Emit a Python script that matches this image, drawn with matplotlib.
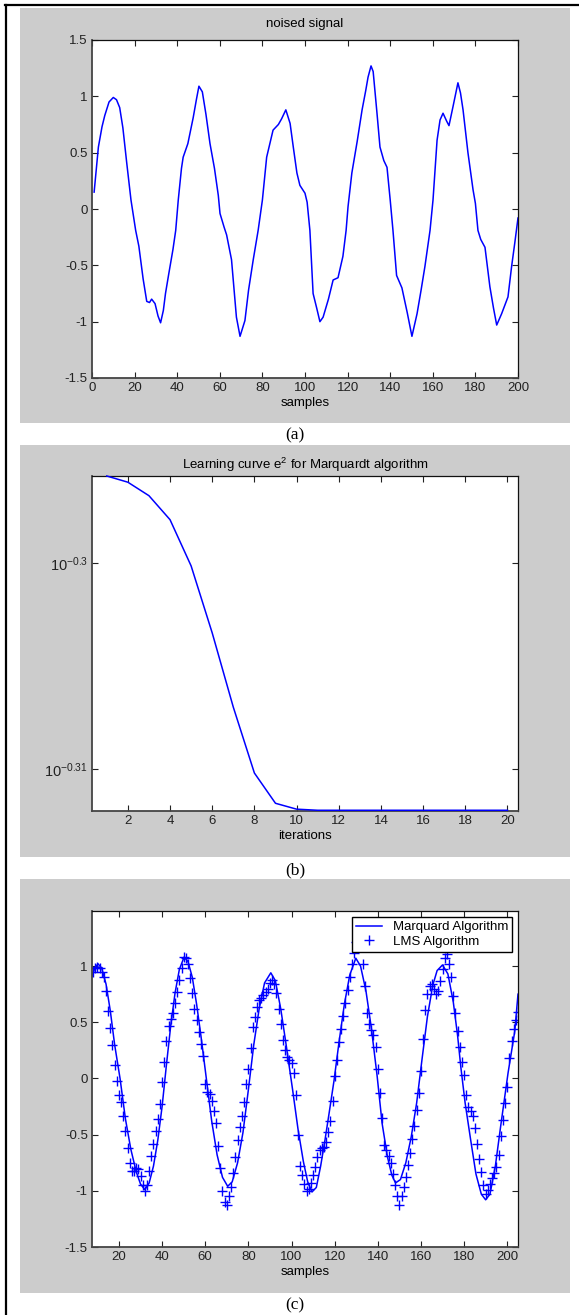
import matplotlib
matplotlib.use('Agg')
import matplotlib.pyplot as plt
from matplotlib.patches import Rectangle
from matplotlib.lines import Line2D
from matplotlib.ticker import FormatStrFormatter, NullLocator

plt.rcParams['font.family'] = ['Liberation Sans', 'DejaVu Sans']
plt.rcParams['font.size'] = 9.5
plt.rcParams['axes.unicode_minus'] = False
plt.rcParams['mathtext.fontset'] = 'custom'
plt.rcParams['mathtext.rm'] = 'Liberation Sans'
plt.rcParams['mathtext.it'] = 'Liberation Sans'

# (a) noised signal
noised_x = [1, 2, 3, 4.7, 6, 8, 10, 11.5, 13, 14.5, 16.3, 18.3, 20.5, 22, 24, 25.7, 27, 28, 29.6, 31,
            32.2, 33.5, 34.5, 36, 38, 39.3, 40.5, 42, 42.8, 45, 47.5, 49, 50.2, 51.8, 53.5, 55.4, 57.5, 59.3, 60.1, 62,
            63.2, 65.5, 67.8, 69.5, 71.8, 73.5, 75.7, 78, 80, 82, 85, 87.5, 89, 91, 93, 94.5, 96.2, 97.6, 100, 101,
            102.3, 103.8, 105.5, 107, 108.5, 111, 113.2, 115.5, 117.8, 119.3, 120.2, 122, 124.5, 126.8, 128.5, 129.6, 131, 132, 133.8, 135.2,
            137, 138.5, 140, 141.3, 143, 145.5, 148, 150.2, 152.6, 154.5, 156.3, 158.7, 160.1, 162, 163.4, 164.8, 166.5, 167.6, 169.5, 171.8,
            173, 174.2, 176.5, 178.9, 180, 181.2, 182.5, 184.5, 186.8, 188.5, 190, 192.3, 195.3, 197, 198.5, 200]
noised_y = [0.15, 0.35, 0.55, 0.73, 0.83, 0.95, 0.99, 0.97, 0.90, 0.72, 0.41, 0.08, -0.19, -0.33, -0.62, -0.82, -0.83, -0.80, -0.84, -0.95,
            -1.01, -0.90, -0.75, -0.58, -0.36, -0.19, 0.08, 0.36, 0.46, 0.58, 0.81, 0.97, 1.09, 1.04, 0.84, 0.58, 0.36, 0.12, -0.04, -0.16,
            -0.23, -0.45, -0.96, -1.13, -0.99, -0.72, -0.45, -0.19, 0.08, 0.46, 0.70, 0.75, 0.80, 0.88, 0.76, 0.55, 0.32, 0.21, 0.14, 0.06,
            -0.19, -0.75, -0.88, -1.00, -0.96, -0.80, -0.63, -0.61, -0.42, -0.19, 0.02, 0.32, 0.60, 0.88, 1.05, 1.17, 1.27, 1.22, 0.85, 0.55,
            0.43, 0.37, 0.08, -0.19, -0.59, -0.70, -0.92, -1.13, -0.93, -0.72, -0.51, -0.19, 0.08, 0.61, 0.79, 0.85, 0.78, 0.74, 0.91, 1.12,
            1.03, 0.88, 0.50, 0.17, 0.05, -0.19, -0.27, -0.34, -0.69, -0.88, -1.03, -0.93, -0.78, -0.51, -0.30, -0.08]

# (b) learning curve e^2
iterations = list(range(1, 21))
e2 = [0.50606, 0.50571, 0.50495, 0.50360, 0.50101, 0.49728, 0.49318, 0.48957, 0.48792, 0.48760,
      0.48754, 0.48754, 0.48754, 0.48754, 0.48754, 0.48754, 0.48754, 0.48754, 0.48754, 0.48754]

# (c) Marquardt output (line) and LMS output (markers)
marq_x = [7.5, 9, 10.3, 12, 14, 16, 18, 20.5, 23, 25.5, 28, 30, 32, 34, 36, 38, 40, 42, 44, 46,
          48, 50.2, 52, 54, 56, 58, 60.5, 63, 65.5, 68, 70.4, 72.5, 75, 77.5, 80, 82.5, 85, 87.5, 90.4, 92.5,
          95, 97.5, 100.5, 103, 105.5, 107.5, 109.5, 111.5, 113.5, 115.5, 117.5, 119.7, 122, 124.5, 127, 129.8, 132, 134.5, 137, 139.7,
          142, 144.5, 146.5, 148.2, 150.5, 153, 155.5, 158, 160.5, 163, 165.5, 167.5, 170, 172.5, 175, 177, 178.5, 180.5, 183, 185.5,
          188, 190, 192, 194.5, 197, 200.4, 203.5, 205]
marq_y = [0.91, 0.99, 1.02, 0.98, 0.84, 0.60, 0.30, 0.00, -0.36, -0.63, -0.83, -0.94, -0.99, -0.93, -0.78, -0.55, -0.25, 0.12, 0.47, 0.76,
          0.97, 1.08, 1.04, 0.90, 0.66, 0.38, 0.00, -0.38, -0.68, -0.88, -0.96, -0.92, -0.75, -0.48, -0.10, 0.30, 0.62, 0.85, 0.94, 0.87,
          0.62, 0.30, -0.10, -0.45, -0.74, -0.92, -1.01, -0.97, -0.78, -0.55, -0.30, -0.02, 0.32, 0.66, 0.92, 1.07, 1.00, 0.78, 0.45, 0.02,
          -0.40, -0.70, -0.86, -0.93, -0.90, -0.75, -0.52, -0.22, 0.17, 0.55, 0.83, 0.96, 1.01, 0.93, 0.68, 0.38, 0.10, -0.22, -0.54, -0.85,
          -1.03, -1.08, -1.03, -0.78, -0.42, 0.05, 0.42, 0.75]

lms_x = list(range(8, 206))
lms_y = [0.95, 0.98, 0.99, 0.98, 0.95, 0.90, 0.78, 0.60, 0.45, 0.30, 0.12, -0.02, -0.15,
         -0.21, -0.33, -0.47, -0.62, -0.75, -0.82, -0.82, -0.80, -0.81, -0.87, -0.95, -1.00, -0.95, -0.82, -0.69, -0.58, -0.47, -0.36, -0.23, -0.03,
         0.15, 0.33, 0.47, 0.53, 0.58, 0.67, 0.77, 0.88, 0.98, 1.08, 1.07, 1.02, 0.89, 0.76, 0.62, 0.52, 0.41, 0.31, 0.20, -0.05,
         -0.12, -0.14, -0.20, -0.29, -0.40, -0.60, -0.80, -1.00, -1.10, -1.13, -1.05, -0.97, -0.84, -0.70, -0.55, -0.43, -0.33, -0.21, -0.05, 0.08,
         0.27, 0.46, 0.55, 0.64, 0.70, 0.72, 0.74, 0.77, 0.80, 0.85, 0.88, 0.84, 0.76, 0.62, 0.48, 0.34, 0.25, 0.19, 0.16, 0.14,
         0.05, -0.15, -0.50, -0.78, -0.86, -0.94, -1.00, -0.98, -0.93, -0.86, -0.79, -0.70, -0.64, -0.62, -0.61, -0.57, -0.48, -0.38, -0.20, 0.02,
         0.16, 0.32, 0.44, 0.56, 0.67, 0.79, 0.90, 1.02, 1.12, 1.21, 1.27, 1.22, 1.02, 0.82, 0.58, 0.48, 0.43, 0.39, 0.28, 0.08,
         -0.13, -0.35, -0.59, -0.64, -0.69, -0.75, -0.85, -0.95, -1.05, -1.13, -1.05, -0.97, -0.88, -0.77, -0.66, -0.54, -0.42, -0.28, -0.13, 0.07,
         0.35, 0.61, 0.75, 0.82, 0.84, 0.80, 0.75, 0.78, 0.87, 0.97, 1.07, 1.11, 1.02, 0.90, 0.73, 0.58, 0.42, 0.28, 0.15, 0.03,
         -0.15, -0.25, -0.29, -0.33, -0.44, -0.58, -0.72, -0.83, -0.95, -1.03, -0.99, -0.94, -0.89, -0.84, -0.79, -0.68, -0.51, -0.37, -0.22, -0.08,
         0.18, 0.33, 0.44, 0.52, 0.59]

W, H = 579, 1315
GRAY = '#cccccc'
BLUE = '#0000ff'

fig = plt.figure(figsize=(W / 100, H / 100), dpi=100)
fig.patch.set_facecolor('white')


def frac(left, top, right, bottom):
    return [left / W, 1 - bottom / H, (right - left) / W, (bottom - top) / H]


def gray_panel(top, bottom):
    fig.add_artist(Rectangle((20 / W, 1 - bottom / H), 550 / W, (bottom - top) / H,
                             transform=fig.transFigure, facecolor=GRAY, edgecolor='none', zorder=0))


def matlab_style(ax):
    ax.set_facecolor('white')
    ax.tick_params(which='both', direction='in', top=True, right=True, length=4, width=0.8, pad=3,
                   labelsize=9.5, colors='#222222')
    for side in ['left', 'bottom']:
        ax.spines[side].set_color('#444444')
        ax.spines[side].set_linewidth(1.3)
    for side in ['top', 'right']:
        ax.spines[side].set_color('#111111')
        ax.spines[side].set_linewidth(0.9)


gray_panel(8, 423)
gray_panel(445, 857)
gray_panel(879, 1293)

# page border lines
fig.add_artist(Line2D([6 / W, 6 / W], [0, 1 - 5 / H], transform=fig.transFigure, color='black', lw=1.6))
fig.add_artist(Line2D([5 / W, 1], [1 - 5 / H, 1 - 5 / H], transform=fig.transFigure, color='black', lw=1.6))

# (a)
ax1 = fig.add_axes(frac(92, 40, 518, 378))
ax1.plot(noised_x, noised_y, color=BLUE, lw=1.1)
ax1.set_xlim(0, 200)
ax1.set_ylim(-1.5, 1.5)
ax1.set_xticks(range(0, 201, 20))
ax1.set_yticks([-1.5, -1, -0.5, 0, 0.5, 1, 1.5])
ax1.yaxis.set_major_formatter(FormatStrFormatter('%g'))
ax1.set_title('noised signal', fontsize=9.5, pad=9)
ax1.set_xlabel('samples', labelpad=2)
matlab_style(ax1)

# (b)
ax2 = fig.add_axes(frac(92, 476, 518, 811))
ax2.plot(iterations, e2, color=BLUE, lw=1.1, zorder=3, clip_on=False)
ax2.set_yscale('log')
ax2.set_xlim(0.3, 20.5)
ax2.set_ylim(0.4875, 0.50606)
ax2.set_xticks(range(2, 21, 2))
ax2.set_yticks([10 ** -0.31, 10 ** -0.3])
ax2.set_yticklabels(['$10^{-0.31}$', '$10^{-0.3}$'])
ax2.yaxis.set_minor_locator(NullLocator())
ax2.set_title('Learning curve e$^2$ for Marquardt algorithm', fontsize=9.5, pad=5)
ax2.set_xlabel('iterations', labelpad=2)
matlab_style(ax2)
ax2.tick_params(axis='y', labelsize=10.5)

# (c)
ax3 = fig.add_axes(frac(92, 911, 518, 1247))
ax3.plot(marq_x, marq_y, color=BLUE, lw=1.1, label='Marquard Algorithm')
ax3.plot(lms_x, lms_y, linestyle='none', marker='+', markersize=7, markeredgewidth=1.0,
         color=BLUE, label='LMS Algorithm')
ax3.set_xlim(7.5, 205)
ax3.set_ylim(-1.5, 1.49)
ax3.set_xticks(range(20, 201, 20))
ax3.set_yticks([-1.5, -1, -0.5, 0, 0.5, 1])
ax3.yaxis.set_major_formatter(FormatStrFormatter('%g'))
ax3.set_xlabel('samples', labelpad=2)
leg = ax3.legend(loc='upper right', fontsize=9.5, frameon=True, fancybox=False, framealpha=1,
                 edgecolor='black', borderaxespad=0.45, borderpad=0.3, labelspacing=0.2,
                 handlelength=2.0, handletextpad=0.8)
leg.get_frame().set_linewidth(1.0)
matlab_style(ax3)

# captions
for label, y in [('(a)', 435), ('(b)', 870), ('(c)', 1305)]:
    fig.text(295 / W, 1 - y / H, label, ha='center', va='center', fontsize=12.5,
             family=['Liberation Serif', 'DejaVu Serif'])

fig.savefig('out.png', dpi=100, facecolor='white')
